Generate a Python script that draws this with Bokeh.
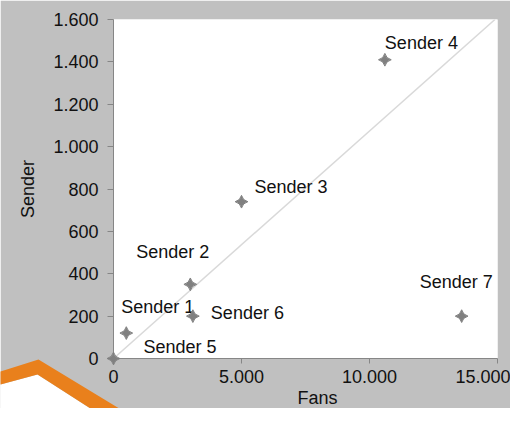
import math
from bokeh.plotting import figure
from bokeh.models import (Range1d, CustomJSTickFormatter, FixedTicker, ColumnDataSource)
from bokeh.core.properties import value
from bokeh.embed import file_html
from bokeh.resources import INLINE

# ---- data ----
senders = ["Sender 1", "Sender 2", "Sender 3", "Sender 4", "Sender 5", "Sender 6", "Sender 7"]
fans = [500, 3000, 5000, 10600, 0, 3100, 13600]
sender_counts = [120, 350, 740, 1410, 0, 200, 200]
ref_fans = [0, 14900]
ref_sender = [0, 1600]
x_ticks = [0, 5000, 10000, 15000]
y_ticks = [0, 200, 400, 600, 800, 1000, 1200, 1400, 1600]
x_title = "Fans"
y_title = "Sender"

# label offsets (screen pixels, manually placed labels)
label_dx = [-5, -54, 13, 0, 30, 18, -42]
label_dy = [-26, -32, -15, -17, -12, -3, -34]

FONT = "Liberation Sans"
TXT = "#111111"
AXC = "#868686"

W, H = 510, 408
FL, FR, FT, FB = 113, 497, 19, 358   # frame edges in canvas pixels
XMAX, YMAX = 15000, 1600

p = figure(width=W, height=H, output_backend="svg", toolbar_location=None,
           x_range=Range1d(0, XMAX), y_range=Range1d(0, YMAX),
           min_border_left=FL, min_border_right=W - FR, min_border_top=FT,
           min_border_bottom=H - FB, background_fill_color="white",
           border_fill_color="#c0c0c0", outline_line_color=None)
p.grid.visible = False

fmt = CustomJSTickFormatter(code=r"return Math.round(tick).toString().replace(/\B(?=(\d{3})+(?!\d))/g, '.');")

for ax in (p.xaxis[0], p.yaxis[0]):
    ax.formatter = fmt
    ax.minor_tick_line_color = None
    ax.major_tick_in = 0
    ax.axis_line_color = AXC
    ax.major_tick_line_color = AXC
    ax.major_label_text_font = FONT
    ax.major_label_text_font_size = "18px"
    ax.major_label_text_color = TXT

p.xaxis.ticker = FixedTicker(ticks=x_ticks)
p.yaxis.ticker = FixedTicker(ticks=y_ticks)
p.xaxis.major_tick_out = 5
p.xaxis.major_label_standoff = 6
p.yaxis.major_tick_out = 6
p.yaxis.major_label_standoff = 9
p.yaxis.axis_label = y_title
p.yaxis.axis_label_text_font = FONT
p.yaxis.axis_label_text_font_size = "18px"
p.yaxis.axis_label_text_font_style = "normal"
p.yaxis.axis_label_text_color = TXT
p.yaxis.axis_label_standoff = 12

p.line(ref_fans, ref_sender, line_color="#d9d9d9", line_width=1.5)

src = ColumnDataSource(dict(x=fans, y=sender_counts, t=senders, dx=label_dx, dy=label_dy))
p.scatter("x", "y", source=src, marker="square_pin", size=9, angle=math.pi / 4,
          fill_color="#808080", line_color="#808080", level="overlay")
p.text(x="x", y="y", text="t", x_offset="dx", y_offset="dy", source=src,
       text_font=value(FONT), text_font_size="18px", text_baseline="middle",
       text_align="left", text_color=TXT)

# ---- pixel -> data helpers for items placed outside the frame ----
def to_dx(px):
    return [(v - FL) / (FR - FL) * XMAX for v in px]

def to_dy(py):
    return [(FB - v) / (FB - FT) * YMAX for v in py]

# x axis title below the tick labels
p.text(x=to_dx([297]), y=to_dy([387]), text=[x_title], text_font=value(FONT),
       text_font_size="18px", text_baseline="top", text_align="left",
       text_color=TXT, level="overlay")

# ---- decoration: orange stroke and white paper below it ----
white_px = [0, 37, 118, 0]
white_py = [384, 374, 426, 426]
orange_px = [0, 38, 127, 320, 320, 118, 37, 0]
orange_py = [371, 359, 413, 413, 426, 426, 374, 384]
p.patch(to_dx(white_px), to_dy(white_py), fill_color="white", line_color=None, level="overlay")
p.patch(to_dx(orange_px), to_dy(orange_py), fill_color="#E9801C", line_color=None, level="overlay")

open("out.html", "w").write(file_html(p, INLINE))
